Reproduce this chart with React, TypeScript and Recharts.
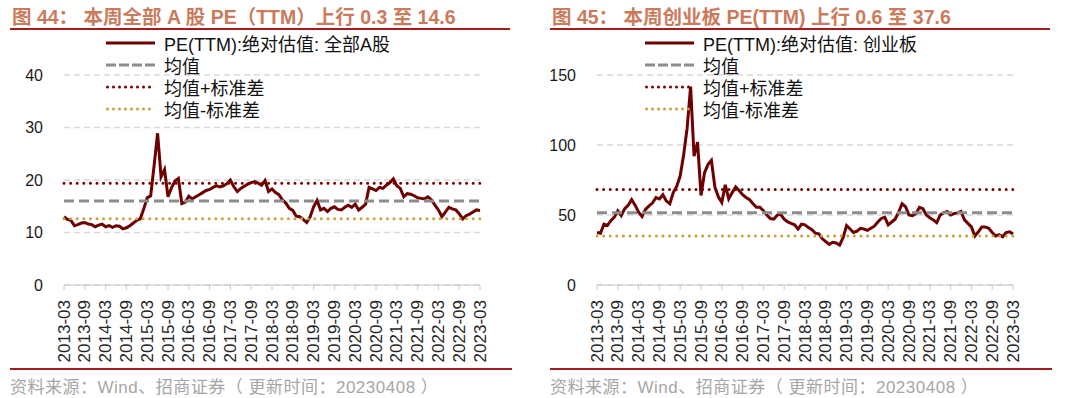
import React from 'react';
import { LineChart, Line, XAxis, YAxis, CartesianGrid, ReferenceLine } from 'recharts';

// monthly categories, 2013-03 .. 2023-03
const months: string[] = [];
for (let y = 2013; y <= 2023; y++) {
  for (let m = 1; m <= 12; m++) {
    if (y === 2013 && m < 3) continue;
    if (y === 2023 && m > 3) continue;
    months.push(`${y}-${m < 10 ? '0' + m : m}`);
  }
}

// 全部A股 PE(TTM)
const allAPe = [
  13.0, 12.5, 12.3, 11.3, 11.5, 11.8, 11.9, 11.6, 11.5, 11.1,
  11.4, 11.6, 11.1, 11.3, 11.0, 11.3, 11.2, 10.7, 10.9, 11.3, 11.8, 12.3,
  12.6, 14.5, 16.6, 17.0, 22.8, 28.9, 20.6, 22.0, 16.8, 18.5, 19.8, 20.3,
  15.5, 15.8, 16.9, 16.4, 16.8, 17.2, 17.6, 18.0, 18.2, 18.6, 18.9, 18.7,
  18.9, 19.3, 20.0, 18.7, 17.8, 18.4, 18.8, 19.2, 19.5, 19.7, 19.4, 19.0,
  19.9, 17.8, 18.3, 17.6, 17.2, 16.2, 15.6, 14.6, 14.2, 13.1, 13.0, 12.5,
  11.9, 13.0, 14.9, 16.1, 14.3, 14.6, 14.0, 14.6, 14.9, 14.4, 14.3, 14.8,
  15.2, 14.8, 15.4, 14.3, 14.8, 15.4, 18.6, 18.3, 18.0, 18.6, 18.4, 19.0,
  19.5, 20.2, 18.9, 18.4, 16.8, 17.4, 17.3, 17.0, 16.6, 16.5, 16.4, 16.8,
  16.2, 15.2, 14.3, 13.0, 13.9, 14.8, 14.5, 14.3, 13.6, 12.6, 13.2, 13.5,
  13.9, 14.3, 14.2,
];

// 创业板 PE(TTM)
const chinextPe = [
  37.5, 37.0, 43.5, 42.5, 46.0, 48.5, 53.0, 49.5, 54.5, 57.0,
  61.0, 57.0, 52.0, 49.0, 54.0, 56.5, 58.5, 62.5, 61.5, 64.5, 60.0, 58.0,
  66.0, 70.5, 78.0, 93.0, 112.0, 141.7, 92.0, 102.0, 64.0, 80.0, 86.0, 89.0,
  70.0, 63.0, 59.0, 71.5, 61.5, 66.0, 70.0, 67.5, 64.5, 62.5, 61.0, 58.0,
  55.5, 55.5, 53.0, 50.0, 47.5, 47.0, 50.0, 50.5, 47.0, 45.0, 44.0, 43.0,
  40.0, 43.5, 43.0, 41.0, 39.5, 37.0, 36.5, 33.0, 31.0, 29.0, 30.5, 30.0,
  28.5, 34.0, 42.5, 40.0, 37.5, 38.5, 40.5, 40.0, 39.0, 40.5, 42.0, 45.0,
  47.5, 48.5, 43.0, 45.0, 47.0, 52.0, 58.0, 56.0, 50.0, 49.5, 51.0, 55.5,
  54.5, 50.0, 48.0, 46.5, 44.5, 50.0, 51.5, 52.5, 50.0, 51.0, 51.5, 52.5,
  46.5, 44.0, 41.5, 35.0, 38.0, 41.5, 41.5, 40.5, 37.5, 35.0, 36.0, 34.5,
  37.5, 38.0, 36.5,
];

const allABands = { mean: 16.0, upper: 19.4, lower: 12.6 };
const chinextBands = { mean: 51.6, upper: 68.2, lower: 35.0 };

const allATicks = [0, 10, 20, 30, 40];
const chinextTicks = [0, 50, 100, 150];

const FONT = '"Liberation Sans", Arial, "Noto Sans CJK SC", sans-serif';
const LINE_RED = '#6E0000';
const MEAN_GREY = '#8C8C8C';
const UPPER_RED = '#7A0000';
const LOWER_GOLD = '#C9A13B';

const DateTick = (props: any) => {
  const { x, y, payload } = props;
  return (
    <text
      x={x}
      y={y}
      transform={`rotate(-90, ${x}, ${y})`}
      textAnchor="end"
      dominantBaseline="central"
      fontSize={17}
      fill="#262626"
      fontFamily={FONT}
    >
      {payload.value}
    </text>
  );
};

const LegendRow = ({ kind, label, top, left }: any) => {
  let line: any = null;
  if (kind === 'solid') line = <line x1={0} y1={6} x2={49} y2={6} stroke={LINE_RED} strokeWidth={3} />;
  if (kind === 'mean') line = <line x1={0} y1={6} x2={49} y2={6} stroke={MEAN_GREY} strokeWidth={3} strokeDasharray="10 3" />;
  if (kind === 'upper')
    line = <line x1={1.5} y1={6} x2={49} y2={6} stroke={UPPER_RED} strokeWidth={3} strokeDasharray="0 6" strokeLinecap="round" />;
  if (kind === 'lower')
    line = <line x1={1.5} y1={6} x2={49} y2={6} stroke={LOWER_GOLD} strokeWidth={3} strokeDasharray="0 6" strokeLinecap="round" />;
  return (
    <div style={{ position: 'absolute', left, top, display: 'flex', alignItems: 'center', height: 22, whiteSpace: 'nowrap' }}>
      <svg width={52} height={12} style={{ display: 'block' }}>{line}</svg>
      <span style={{ marginLeft: 6, fontSize: 18, color: '#111', fontFamily: FONT }}>{label}</span>
    </div>
  );
};

const Panel = ({ left, title, seriesName, values, bands, ticks, yWidth, rightMargin, legendLeft }: any) => {
  const data = months.map((d, i) => ({ date: d, pe: values[i] }));
  const yMax = ticks[ticks.length - 1];
  return (
    <div style={{ position: 'absolute', left, top: 0, width: 540, height: 398 }}>
      <div
        style={{
          position: 'absolute', left: 12, top: 1, fontSize: 19.5, fontWeight: 'bold',
          color: '#CC7A5C', fontFamily: FONT, whiteSpace: 'pre',
        }}
      >
        {title}
      </div>
      <div style={{ position: 'absolute', left: 10, top: 28, width: 500, height: 2, background: '#A51C1C' }} />
      <div style={{ position: 'absolute', left: 0, top: 0 }}>
        <LineChart width={540} height={398} data={data} margin={{ top: 75, right: rightMargin, left: 0, bottom: 28 }}>
          <CartesianGrid vertical={false} stroke="#D9D9D9" strokeDasharray="6 4" strokeWidth={1.5} />
          <XAxis
            dataKey="date"
            scale="point"
            interval={5}
            height={85}
            tick={<DateTick />}
            tickSize={5}
            tickMargin={10}
            axisLine={{ stroke: '#C8C8C8' }}
            tickLine={{ stroke: '#C8C8C8' }}
          />
          <YAxis
            domain={[0, yMax]}
            ticks={ticks}
            width={yWidth}
            axisLine={false}
            tickLine={false}
            tickSize={0}
            tickMargin={21}
            tick={{ fontSize: 16, fill: '#1a1a1a', fontFamily: FONT }}
          />
          <Line
            type="linear"
            dataKey="pe"
            name={seriesName}
            stroke={LINE_RED}
            strokeWidth={3}
            dot={false}
            isAnimationActive={false}
          />
          <ReferenceLine y={bands.mean} stroke={MEAN_GREY} strokeWidth={3} strokeDasharray="10 5" />
          <ReferenceLine y={bands.upper} stroke={UPPER_RED} strokeWidth={3} strokeDasharray="0 6.6" strokeLinecap="round" />
          <ReferenceLine y={bands.lower} stroke={LOWER_GOLD} strokeWidth={3} strokeDasharray="0 6.6" strokeLinecap="round" />
        </LineChart>
      </div>
      <LegendRow kind="solid" label={seriesName} left={legendLeft} top={32} />
      <LegendRow kind="mean" label="均值" left={legendLeft} top={54} />
      <LegendRow kind="upper" label="均值+标准差" left={legendLeft} top={76} />
      <LegendRow kind="lower" label="均值-标准差" left={legendLeft} top={98} />
      <div style={{ position: 'absolute', left: 10, top: 368, width: 502, height: 2, background: '#A51C1C' }} />
      <div
        style={{
          position: 'absolute', left: 10, top: 373, fontSize: 17, color: '#A6A6A6',
          fontFamily: FONT, whiteSpace: 'pre', letterSpacing: 0.5,
        }}
      >
        资料来源：Wind、招商证券（ 更新时间：20230408 ）
      </div>
    </div>
  );
};

export default function App() {
  return (
    <div style={{ position: 'fixed', left: 0, top: 0, width: 1080, height: 398, background: '#fff', overflow: 'hidden' }}>
      <Panel
        left={0}
        title="图 44： 本周全部 A 股 PE（TTM）上行 0.3 至 14.6"
        seriesName="PE(TTM):绝对估值: 全部A股"
        values={allAPe}
        bands={allABands}
        ticks={allATicks}
        yWidth={64}
        rightMargin={60}
        legendLeft={106}
      />
      <Panel
        left={540}
        title="图 45： 本周创业板 PE(TTM) 上行 0.6 至 37.6"
        seriesName="PE(TTM):绝对估值: 创业板"
        values={chinextPe}
        bands={chinextBands}
        ticks={chinextTicks}
        yWidth={57}
        rightMargin={67}
        legendLeft={105}
      />
    </div>
  );
}
